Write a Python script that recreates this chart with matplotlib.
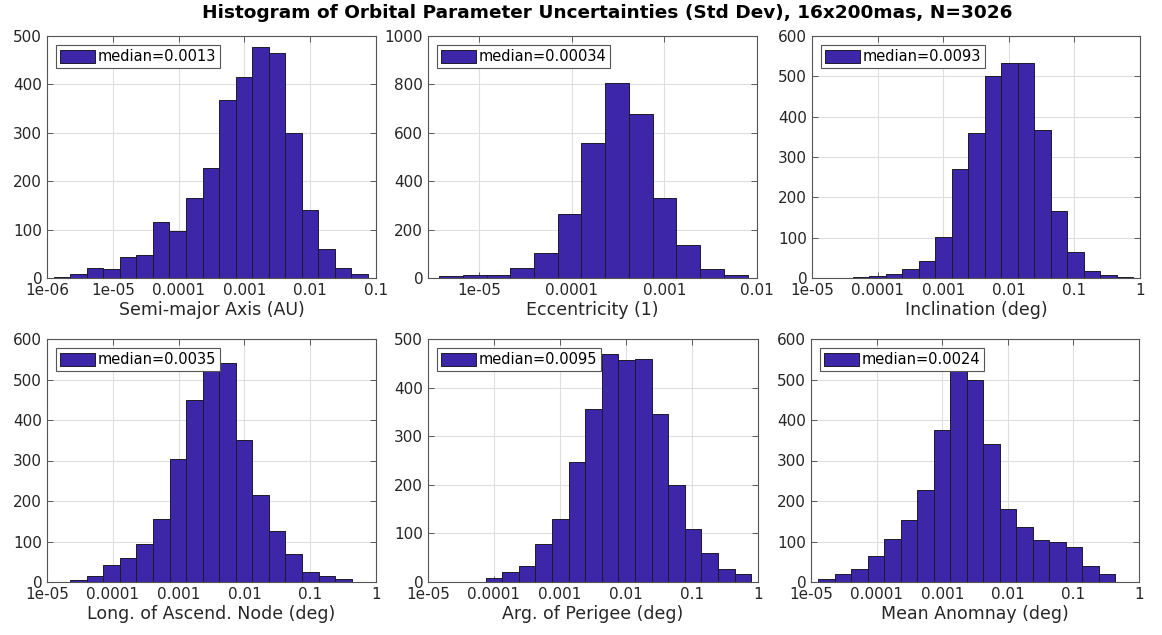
import numpy as np
import matplotlib
matplotlib.use('Agg')
import matplotlib.pyplot as plt
from matplotlib.patches import Patch
from matplotlib.ticker import FixedLocator, FixedFormatter, NullLocator

# histogram counts per bin
sma_counts = [3, 9, 21, 19, 44, 47, 115, 97, 165, 227, 368, 416, 478, 465, 299, 141, 60, 21, 9]
ecc_counts = [7, 14, 11, 41, 104, 265, 558, 804, 676, 330, 136, 37, 14]
inc_counts = [3, 4, 11, 22, 43, 101, 270, 359, 500, 533, 532, 368, 167, 65, 17, 7, 3]
lan_counts = [6, 15, 43, 60, 94, 155, 304, 449, 540, 540, 350, 216, 125, 68, 24, 15, 7]
aop_counts = [1, 8, 20, 33, 78, 130, 247, 355, 470, 457, 459, 345, 200, 110, 60, 26, 16]
ma_counts = [7, 20, 33, 65, 107, 152, 226, 375, 530, 499, 340, 180, 136, 103, 99, 87, 40, 20]

# first bin edge (log10) and bin width (decades)
sma_edge0, sma_bw = -5.90, 0.2515
ecc_edge0, ecc_bw = -5.43, 0.256
inc_edge0, inc_bw = -4.38, 0.2515
lan_edge0, lan_bw = -4.646, 0.2515
aop_edge0, aop_bw = -4.38, 0.2515
ma_edge0, ma_bw = -4.89, 0.2515

medians = [0.0013, 0.00034, 0.0093, 0.0035, 0.0095, 0.0024]
xlabels = ['Semi-major Axis (AU)', 'Eccentricity (1)', 'Inclination (deg)',
           'Long. of Ascend. Node (deg)', 'Arg. of Perigee (deg)', 'Mean Anomnay (deg)']

# axis limits (log10) and y limits
xlims = [(-6, -1), (-5.55, -2), (-5, 0), (-5, 0), (-5, 0), (-5, 0)]
ylims = [500, 1000, 600, 600, 500, 600]
ysteps = [100, 200, 100, 100, 100, 100]

tick_vals = [1e-6, 1e-5, 1e-4, 1e-3, 1e-2, 1e-1, 1]
tick_text = ['1e-06', '1e-05', '0.0001', '0.001', '0.01', '0.1', '1']

title = 'Histogram of Orbital Parameter Uncertainties (Std Dev), 16x200mas, N=3026'

all_counts = [sma_counts, ecc_counts, inc_counts, lan_counts, aop_counts, ma_counts]
all_edge0 = [sma_edge0, ecc_edge0, inc_edge0, lan_edge0, aop_edge0, ma_edge0]
all_bw = [sma_bw, ecc_bw, inc_bw, lan_bw, aop_bw, ma_bw]

bar_color = '#3e26a8'
text_color = '#262626'

plt.rcParams['font.family'] = 'DejaVu Sans'

fig = plt.figure(figsize=(11.62, 6.35), dpi=100)
W, H = 1162, 635
# axes boxes in pixels: left, right, top, bottom
boxes = [(47, 376, 36, 278), (428, 757, 36, 278), (812, 1140, 36, 278),
         (47, 376, 339, 582), (428, 758, 339, 582), (811, 1139, 339, 582)]

for i in range(6):
    l, r, t, b = boxes[i]
    ax = fig.add_axes([l / W, 1 - b / H, (r - l) / W, (b - t) / H])
    counts = all_counts[i]
    edges = 10 ** (all_edge0[i] + all_bw[i] * np.arange(len(counts) + 1))
    ax.bar(edges[:-1], counts, width=np.diff(edges), align='edge',
           color=bar_color, edgecolor='#1a1a2e', linewidth=0.7)
    ax.set_xscale('log')
    ax.set_xlim(10 ** xlims[i][0], 10 ** xlims[i][1])
    ax.set_ylim(0, ylims[i])
    ax.set_yticks(np.arange(0, ylims[i] + 1, ysteps[i]))
    ax.xaxis.set_major_locator(FixedLocator(tick_vals))
    ax.xaxis.set_major_formatter(FixedFormatter(tick_text))
    ax.xaxis.set_minor_locator(NullLocator())
    ax.set_axisbelow(True)
    ax.grid(True, color='#dedede', linewidth=0.8)
    ax.tick_params(direction='in', top=True, right=True, length=4,
                   width=0.6, color='#444444', labelsize=11,
                   labelcolor=text_color, pad=3.5)
    for s in ax.spines.values():
        s.set_color('#555555')
        s.set_linewidth(0.8)
    ax.set_xlabel(xlabels[i], fontsize=12.5, color=text_color, labelpad=2)
    h = Patch(facecolor=bar_color, edgecolor='#1a1a2e', linewidth=0.7)
    leg = ax.legend([h], [f'median={medians[i]:.2g}'], loc='upper left',
                    fontsize=10.5, frameon=True, fancybox=False,
                    handlelength=2.4, handleheight=1.0, handletextpad=0.2,
                    borderpad=0.25, borderaxespad=0.65)
    leg.get_frame().set_edgecolor('#555555')
    leg.get_frame().set_linewidth(0.8)
    leg.get_frame().set_alpha(1)

fig.text(0.5224, 0.980, title, ha='center', va='center', fontsize=13.3,
         fontweight='bold', color='black')

fig.savefig('out.png', dpi=100)
